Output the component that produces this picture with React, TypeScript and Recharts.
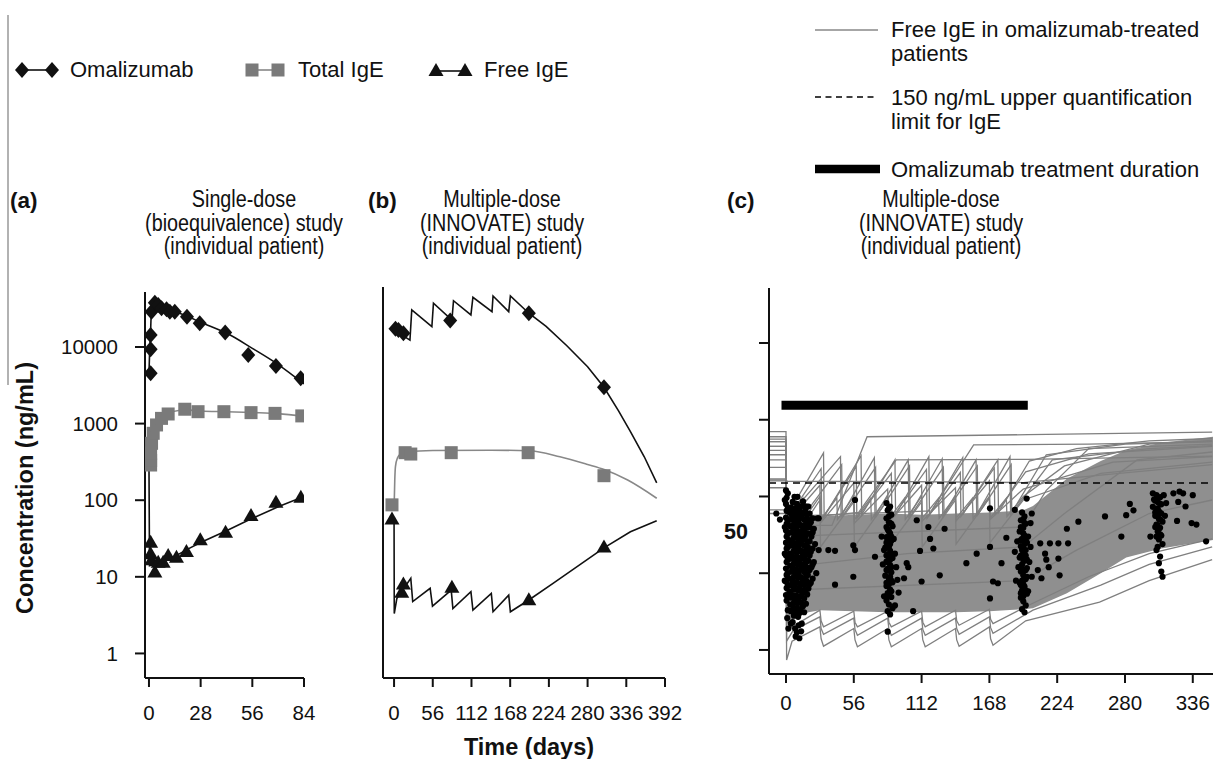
import React from 'react';
import { Area, ComposedChart, Line, ReferenceLine, Scatter, XAxis, YAxis } from 'recharts';

const FONT = "'Liberation Sans', Arial, sans-serif";
const INK = '#111';
const GREY = '#7a7a7a';
const LINE_GREY = '#7f7f7f';

type Pt = [number, number];

// tick values
const decadeTicks = [1, 10, 100, 1000, 10000];
const aDayTicks = [0, 28, 56, 84];
const bDayTicks = [0, 56, 112, 168, 224, 280, 336, 392];
const cDayTicks = [0, 56, 112, 168, 224, 280, 336];
const cLevelTicks = [1, 10, 50, 100, 1000, 10000];

// (a) single-dose study, one patient
const aOmaFit: Pt[] = [[0, 4500], [0.4, 9300], [0.8, 14300], [1.3, 28000], [2.5, 34500], [4, 35500], [7, 33000], [14, 29000], [21, 25000], [28, 21000], [42, 15200], [56, 9600], [70, 5900], [84, 3300]];
const aOmaObs: Pt[] = [[0.9, 4540], [0.9, 9330], [0.9, 14300], [1.4, 28800], [3.2, 37900], [5, 35300], [6.8, 32000], [9.5, 31000], [11.3, 28800], [14, 28800], [20.6, 24900], [27.5, 20400], [41.3, 15400], [53.8, 7870], [68.8, 5650], [82.2, 3900]];
const aTotFit: Pt[] = [[0, 290], [0.8, 400], [1.5, 560], [2.5, 760], [4, 960], [7, 1170], [10, 1330], [16, 1480], [22, 1500], [28, 1460], [42, 1430], [56, 1395], [70, 1350], [84, 1240]];
const aTotObs: Pt[] = [[0.9, 288], [0.9, 330], [0.9, 410], [1.4, 553], [2.3, 747], [4.1, 960], [6.8, 1170], [10.4, 1335], [19.4, 1540], [26.6, 1430], [40.6, 1430], [55.3, 1390], [68.3, 1360], [82.8, 1260]];
const aFreeFit: Pt[] = [[0, 290], [0.3, 14], [3, 14.5], [7, 16], [14, 18.5], [21, 23], [28, 28], [42, 40], [56, 58], [70, 82], [84, 112]];
const aFreeObs: Pt[] = [[0.9, 28.7], [0.9, 20.3], [1.4, 16.9], [3.2, 11.7], [5, 15.7], [7.7, 15.7], [10.4, 19.3], [14.9, 18.3], [20.3, 21.7], [27.8, 31], [41.5, 38.8], [55.3, 64], [68.8, 95.5], [82.3, 111]];

// (b) multiple-dose study, one patient
const bOmaFit: Pt[] = [[0, 14800], [23, 10900], [25.6, 26900], [54.7, 16300], [57, 32900], [83.7, 19900], [86, 35500], [111.2, 23200], [114.1, 39400], [141.7, 25600], [143.2, 40900], [165.9, 25600], [168.3, 40900], [195, 24400], [220, 16500], [250, 9200], [280, 4900], [303.7, 2650], [325, 1300], [342, 700], [362, 330], [380, 151]];
const bOmaObs: Pt[] = [[2, 15300], [6.3, 14800], [13.5, 13400], [81.2, 19600], [195, 24400], [303.7, 2650]];
const bTotFit: Pt[] = [[0, 67], [1, 160], [2, 245], [5, 320], [10, 360], [20, 385], [56, 398], [140, 402], [195, 395], [240, 330], [280, 262], [304, 225], [338, 164], [380, 95]];
const bTotObs: Pt[] = [[-3, 78], [16, 373], [24.2, 358], [82.7, 373], [194, 373], [303.7, 187]];
const bFreeFit: Pt[] = [[0, 50], [0.3, 3.0], [4, 4.7], [24.2, 8.6], [27, 4.3], [52.2, 6.4], [55.6, 3.74], [82.7, 6.06], [85.1, 3.49], [111.2, 5.76], [114.1, 3.32], [140.7, 5.48], [143.2, 3.16], [165.9, 5.2], [168.3, 3.16], [195, 4.5], [230, 7.4], [270, 13.2], [303.7, 21.5], [342, 34.8], [380, 48.4]];
const bFreeObs: Pt[] = [[-3, 52], [11.1, 5.76], [13.5, 7.4], [83.7, 6.7], [195, 4.6], [303.7, 22.3]];

// (c) free IgE, all treated patients
const cPatientCurves: Pt[][] = [
  [[-14, 520], [0, 520], [0.5, 42], [38, 42], [67, 600], [200, 640], [352, 690]],
  [[-14, 450], [0, 450], [0.5, 55], [31, 370], [31.5, 55], [62, 340], [62.5, 58], [90, 300], [90.5, 58], [118, 330], [118.5, 58], [146, 320], [146.5, 60], [175, 300], [175.5, 62], [201, 290], [240, 420], [300, 530], [352, 570]],
  [[-14, 300], [0, 300], [0.5, 50], [29, 230], [29.5, 50], [58, 245], [58.5, 52], [87, 200], [87.5, 52], [116, 225], [116.5, 52], [144, 205], [144.5, 55], [172, 235], [172.5, 58], [198, 210], [250, 360], [352, 450]],
  [[-14, 170], [0, 170], [0.5, 45], [28, 140], [28.5, 45], [56, 150], [56.5, 45], [84, 125], [84.5, 45], [112, 140], [112.5, 48], [140, 130], [140.5, 48], [168, 160], [168.5, 50], [196, 125], [270, 280], [352, 330]],
  [[-14, 165], [0, 165], [1, 158], [100, 156], [196, 152], [260, 190], [352, 260]],
  [[-14, 400], [0, 400], [0.5, 50], [60, 62], [91, 300], [200, 305], [352, 335]],
  [[-14, 600], [0, 600], [0.5, 55], [120, 65], [155, 470], [250, 480], [352, 520]],
  [[-14, 560], [0, 560], [0.5, 48], [14, 95], [14.5, 50], [28, 100], [28.5, 50], [42, 95], [42.5, 50], [56, 100], [56.5, 50], [70, 95], [70.5, 50], [84, 100], [84.5, 50], [98, 95], [98.5, 50], [112, 100], [112.5, 52], [126, 95], [126.5, 52], [140, 100], [140.5, 52], [154, 95], [154.5, 52], [168, 100], [168.5, 52], [182, 95], [182.5, 55], [196, 100], [230, 250], [300, 480], [352, 540]],
  [[-14, 350], [0, 350], [0.5, 52], [45, 330], [45.5, 55], [73, 320], [73.5, 55], [101, 300], [101.5, 55], [129, 310], [129.5, 55], [157, 300], [157.5, 58], [185, 330], [185.5, 58], [215, 350], [280, 480], [352, 520]],
  [[-14, 700], [0, 700], [0.5, 0.74], [5, 1.3], [28, 2.0], [29, 1.4], [31, 1.12], [56, 1.9], [57, 1.35], [59, 1.1], [84, 1.9], [85, 1.35], [87, 1.1], [112, 1.9], [113, 1.35], [115, 1.1], [140, 1.9], [141, 1.35], [143, 1.12], [168, 2.0], [169, 1.4], [171, 1.15], [198, 2.4], [259, 4.2], [300, 8], [352, 15]],
  [[-14, 67], [0, 67], [0.5, 1.3], [6, 1.8], [28, 2.7], [29, 1.9], [31, 1.6], [56, 2.6], [57, 1.85], [59, 1.55], [84, 2.6], [85, 1.85], [87, 1.55], [112, 2.6], [113, 1.85], [115, 1.55], [140, 2.6], [141, 1.9], [143, 1.6], [168, 2.7], [169, 1.95], [171, 1.65], [204, 3.3], [260, 7], [300, 13], [352, 22]],
  [[-14, 60], [0, 60], [0.5, 1.8], [28, 3.3], [29, 2.4], [31, 2.0], [56, 3.2], [57, 2.3], [59, 2.0], [84, 3.2], [85, 2.3], [87, 2.0], [112, 3.2], [113, 2.3], [115, 2.0], [140, 3.3], [141, 2.4], [143, 2.1], [168, 3.4], [169, 2.5], [171, 2.2], [200, 3.8], [250, 9], [300, 18], [352, 28]],
  [[-14, 240], [0, 240], [0.5, 50], [14, 55], [46, 260], [46.5, 55], [74, 240], [74.5, 55], [102, 250], [102.5, 55], [130, 240], [130.5, 58], [158, 250], [158.5, 58], [186, 260], [186.5, 60], [220, 300], [300, 420], [352, 460]],
  [[-14, 130], [0, 130], [0.5, 20], [28, 90], [28.5, 22], [56, 85], [56.5, 22], [84, 90], [84.5, 22], [112, 85], [112.5, 22], [140, 90], [140.5, 24], [168, 95], [168.5, 25], [196, 90], [260, 200], [352, 280]],
  [[-14, 450], [0, 450], [0.5, 30], [196, 40], [215, 120], [250, 420], [352, 480]],
  [[-14, 160], [0, 160], [0.5, 6], [196, 8], [240, 20], [300, 60], [352, 90]],
  [[-14, 520], [0, 520], [0.5, 12], [100, 18], [196, 22], [230, 60], [290, 300], [352, 380]],
];
// dense envelope of the individual curves: [day, low, high]
const cBand: [number, number, number][] = [[0.5, 2.2, 62], [14, 3.0, 58], [28, 3.3, 55], [56, 3.2, 58], [84, 3.1, 60], [112, 3.1, 58], [140, 3.1, 60], [168, 3.2, 62], [196, 3.4, 66], [204, 3.5, 75], [232, 5.5, 170], [260, 10, 290], [281, 16, 400], [310, 21, 500], [352.7, 27, 600]];
const cDotsDay0: Pt[] = [
  [0, 120], [0.5, 96], [0, 80], [0.5, 65], [0, 53], [0.5, 44], [0, 36], [0.5, 30], [0, 25], [0.5, 21], [0, 17], [0.5, 14], [0, 11.5], [0.5, 9.5], [0, 7.8], [0.5, 6.4], [0, 5.2], [0.5, 4.4],
  [-8, 60], [-5, 50], [-1, 90], [-1, 40], [-1, 18], [-1, 8],
  [1.5, 110], [1.5, 70], [1.5, 48], [1.5, 33], [1.5, 22], [1.5, 15], [1.5, 10], [1.5, 7], [1.5, 5], [1.5, 3.3], [1, 2.6], [2, 1.9],
  [3, 62], [3.5, 41], [2.5, 27], [3, 18], [3.5, 12.5], [2.5, 8.5], [3, 5.8], [3.5, 3.9],
  [4, 72], [4.5, 50], [4, 34], [4.5, 23], [4, 15.5], [4.5, 10.5], [4, 7], [4.5, 4.8], [4, 3.2], [4, 2.2],
  [5.5, 85], [5, 56], [6, 38], [5.5, 25], [5, 17], [6, 11.5], [5.5, 7.8], [5, 5.2], [6, 3.5], [5.5, 2.3],
  [6.5, 63], [6.5, 43], [6.5, 29], [6.5, 19.5], [6.5, 13.3], [6.5, 9], [6.5, 6.1], [6.5, 4.1], [6.5, 2.8],
  [7.5, 70], [8, 48], [7, 32], [8, 22], [7.5, 15], [8, 10], [7, 6.9], [7.5, 4.6], [8, 3.1], [7.5, 1.9], [8, 1.5],
  [9, 80], [8.5, 54], [9, 36], [8.5, 24.5], [9, 16.5], [8.5, 11.2], [9, 7.6], [8.5, 5.1], [9, 3.5],
  [9.5, 99], [10, 60], [9.5, 42], [10, 28], [9.5, 19], [10, 13], [9.5, 8.8], [10, 6], [9.5, 4.1], [10, 2.7], [9, 1.7],
  [11, 66], [10.5, 45], [11, 31], [10.5, 21], [11, 14.2], [10.5, 9.6], [11, 6.5], [10.5, 4.4], [11, 3], [10.5, 2.1],
  [12, 74], [11.5, 52], [12, 35], [11.5, 24], [12, 16], [11.5, 11], [12, 7.4], [11.5, 5], [12, 3.4], [11, 1.42], [12.5, 1.75],
  [13, 62], [12.5, 42], [13, 29], [12.5, 19.5], [13, 13], [12.5, 8.8], [13, 6], [12.5, 4.1],
  [14, 86], [13.5, 58], [14, 40], [13.5, 27], [14, 18], [13.5, 12], [14, 8.2], [13.5, 5.5], [14, 3.7], [13, 2.2],
  [15, 75], [15, 50], [15, 34], [15, 23], [15, 15.5], [15, 10.4], [15, 7], [15, 4.7], [15, 3.1],
  [16, 65], [16.5, 44], [16, 30], [16.5, 20], [16, 13.5], [16.5, 9], [16, 6], [16.5, 4],
  [17.5, 58], [17, 39], [17.5, 26], [17, 17.5], [17.5, 11.8], [17, 7.9], [17.5, 5.3],
  [18.5, 74], [18, 50], [18.5, 33], [18, 22], [18.5, 14.5], [18, 9.5], [18.5, 6.3],
  [19.5, 60], [19.5, 40], [19.5, 26], [19.5, 17], [19.5, 11], [19.5, 7.2],
  [20.5, 46], [21, 30], [20.5, 19], [21, 12], [20.5, 7.5],
  [22, 52], [22, 34], [22, 21], [22, 13], [22, 8.5],
  [23, 38], [24, 24], [23, 14], [26, 52], [27, 20], [25, 10],
];
const cDotsDay84: Pt[] = [
  [83, 82], [86, 74], [84, 66], [87, 58], [83, 52], [85, 46], [88, 41], [84, 37], [86, 33], [83, 29.5], [87, 26.5], [85, 24], [82, 21.5], [86, 19.5], [84, 17.5], [88, 15.8], [83, 14.2], [86, 12.8], [84, 11.5], [87, 10.3], [82, 9.3], [85, 8.4], [88, 7.6], [83, 6.8], [86, 6.1], [84, 5.5], [87, 4.9], [83, 4.4], [85, 3.9], [88, 3.5], [84, 3.2], [86, 2.9], [81, 20], [80, 13], [89, 28], [90, 18], [91, 12], [92, 8.2], [93, 5.6], [90, 3.8], [84, 1.73], [79, 30], [81, 5],
  [85, 70], [85, 55], [85, 35], [85, 22], [85, 16], [85, 10.8], [85, 7.2], [85, 5.1], [87, 44], [87, 30], [87, 18], [87, 12], [87, 8], [87, 5.8], [83, 40], [83, 25], [83, 17], [83, 11], [83, 7.5], [83, 5], [86, 45], [86, 24], [86, 15], [86, 9], [84, 28], [84, 14],
];
const cDotsDay196: Pt[] = [
  [195, 62], [197, 55], [194, 49], [198, 44], [196, 39], [193, 35], [197, 31], [195, 28], [199, 25], [194, 22.5], [198, 20], [196, 18], [193, 16], [197, 14.5], [195, 13], [199, 11.7], [194, 10.5], [196, 9.4], [198, 8.4], [193, 7.5], [197, 6.7], [195, 6], [199, 5.4], [194, 4.8], [196, 4.3], [198, 3.8], [195, 3.4], [192, 12], [190, 8], [189, 19], [200, 30], [202, 22], [201, 14], [203, 9], [200, 5.8], [202, 45], [203, 60], [191, 26], [197, 3.1],
  [196, 50], [196, 33], [196, 22], [196, 15], [196, 11], [196, 7.2], [196, 5], [198, 28], [198, 17], [198, 11], [198, 6], [194, 40], [194, 27], [194, 17], [194, 12], [194, 7], [194, 5.5], [197, 45], [197, 24], [197, 9], [195, 20], [195, 8], [199, 15], [199, 9],
  [210, 24.5], [208, 11], [211, 8.6], [218, 24.5], [225, 24.5], [233, 24.5], [232, 38], [225, 15.5], [226, 9.4], [215, 15], [217, 12], [214, 18],
];
const cDotsDay308: Pt[] = [
  [303, 110], [306, 104], [309, 98], [304, 91], [307, 85], [310, 79], [303, 73], [306, 67], [309, 61], [305, 56], [308, 51], [311, 47], [306, 43], [309, 39], [307, 35], [310, 31], [308, 27.5], [311, 24], [306, 20], [309, 16.5], [308, 13.5], [310, 10.5], [311, 9], [301, 30], [313, 56], [314, 82], [312, 104],
  [307, 95], [307, 70], [307, 55], [307, 42], [307, 30], [307, 22], [309, 80], [309, 50], [309, 32], [305, 88], [305, 62], [305, 40], [308, 64], [308, 38], [306, 30], [310, 60],
  [323, 48], [324, 85], [325, 116], [330, 74], [335, 45], [339, 43], [336, 104], [347, 26], [320, 110], [328, 110],
];
const cDotsOther: Pt[] = [[7, 99], [14, 86], [17, 74], [27, 52], [35, 20], [40.5, 19.6], [40.5, 7.1], [57, 90], [55.6, 23], [57, 20], [55.6, 9], [73.5, 16.4], [97.5, 8.6], [99.7, 13.5], [101, 12], [105, 3.2], [108, 49], [110.7, 19.5], [112, 7.8], [119, 28], [117.6, 40], [121.7, 21], [127, 9.4], [131, 38], [149, 13.5], [157.5, 18], [168.5, 70], [168.5, 22], [168.5, 4.7], [171, 7.8], [175, 7.4], [178, 13.5], [182, 29], [189, 67], [198.8, 94], [241.5, 47], [263.5, 55], [277, 30], [281, 57], [284, 80], [287, 66]];
const treatmentSpan: Pt[] = [[0, 1550], [196, 1550]];
const upperLimit = 150;

const rows = (pts: Pt[]) => pts.map(([day, v]) => ({ day, v }));

const Diamond = (p: any) => (
  <path d={`M${p.cx},${p.cy - 8}L${p.cx + 7},${p.cy}L${p.cx},${p.cy + 8}L${p.cx - 7},${p.cy}Z`} fill={INK} />
);
const Square = (p: any) => <rect x={p.cx - 6.5} y={p.cy - 6.5} width={13} height={13} fill={GREY} />;
const Triangle = (p: any) => (
  <path d={`M${p.cx},${p.cy - 7}L${p.cx + 7.5},${p.cy + 6}L${p.cx - 7.5},${p.cy + 6}Z`} fill={INK} />
);
const Dot = (p: any) => <circle cx={p.cx} cy={p.cy} r={3.1} fill="#000" />;

const axisStroke = { stroke: INK, strokeWidth: 2 };
const tickText = { fontSize: 20.5, fill: INK, fontFamily: FONT };

const CTick = (props: any) => {
  const { x, y, payload } = props;
  if (payload.value === 50) {
    return (
      <text x={x - 11} y={y + 12} textAnchor="end" dominantBaseline="central" fontSize={21.5} fontWeight="bold" fill={INK} fontFamily={FONT}>
        50
      </text>
    );
  }
  return <line x1={x} y1={y} x2={x + 10} y2={y} stroke={INK} strokeWidth={2} />;
};

const layer: React.CSSProperties = { position: 'absolute', left: 0, top: 0 };

function PanelA() {
  return (
    <div style={layer}>
      <ComposedChart width={1213} height={759} margin={{ top: 292, right: 909, bottom: 41, left: 85 }}>
        <XAxis dataKey="day" type="number" domain={[-2.15, 84]} ticks={aDayTicks} allowDataOverflow interval={0} height={40} tickSize={9} tickMargin={18} axisLine={axisStroke} tickLine={axisStroke} tick={tickText} />
        <YAxis type="number" scale="log" domain={[0.478, 52200]} ticks={decadeTicks} allowDataOverflow interval={0} width={60} tickSize={10} tickMargin={17} axisLine={axisStroke} tickLine={axisStroke} tick={tickText} />
        <Line data={rows(aTotFit)} dataKey="v" type="monotone" stroke="#888" strokeWidth={1.6} dot={false} isAnimationActive={false} />
        <Line data={rows(aOmaFit)} dataKey="v" type="monotone" stroke={INK} strokeWidth={1.6} dot={false} isAnimationActive={false} />
        <Line data={rows(aFreeFit)} dataKey="v" type="linear" stroke={INK} strokeWidth={1.6} dot={false} isAnimationActive={false} />
        <Scatter data={rows(aTotObs)} dataKey="v" shape={Square} isAnimationActive={false} />
        <Scatter data={rows(aOmaObs)} dataKey="v" shape={Diamond} isAnimationActive={false} />
        <Scatter data={rows(aFreeObs)} dataKey="v" shape={Triangle} isAnimationActive={false} />
      </ComposedChart>
    </div>
  );
}

function PanelB() {
  return (
    <div style={layer}>
      <ComposedChart width={1213} height={759} margin={{ top: 287, right: 548, bottom: 41, left: 323 }}>
        <XAxis dataKey="day" type="number" domain={[-16, 392]} ticks={bDayTicks} allowDataOverflow interval={0} height={40} tickSize={9} tickMargin={18} axisLine={axisStroke} tickLine={axisStroke} tick={tickText} />
        <YAxis type="number" scale="log" domain={[0.434, 53600]} ticks={decadeTicks} allowDataOverflow interval={0} width={60} tickSize={9} axisLine={axisStroke} tickLine={axisStroke} tick={false} />
        <Line data={rows(bTotFit)} dataKey="v" type="monotone" stroke="#888" strokeWidth={1.6} dot={false} isAnimationActive={false} />
        <Line data={rows(bOmaFit)} dataKey="v" type="linear" stroke={INK} strokeWidth={1.6} dot={false} isAnimationActive={false} />
        <Line data={rows(bFreeFit)} dataKey="v" type="linear" stroke={INK} strokeWidth={1.6} dot={false} isAnimationActive={false} />
        <Scatter data={rows(bTotObs)} dataKey="v" shape={Square} isAnimationActive={false} />
        <Scatter data={rows(bOmaObs)} dataKey="v" shape={Diamond} isAnimationActive={false} />
        <Scatter data={rows(bFreeObs)} dataKey="v" shape={Triangle} isAnimationActive={false} />
      </ComposedChart>
    </div>
  );
}

function PanelC() {
  const band = cBand.map(([day, lo, hi]) => ({ day, band: [lo, hi] }));
  const dots = rows([...cDotsDay0, ...cDotsDay84, ...cDotsDay196, ...cDotsDay308, ...cDotsOther]);
  return (
    <div style={layer}>
      <ComposedChart width={1213} height={759} margin={{ top: 288, right: 0, bottom: 45, left: 709 }}>
        <XAxis dataKey="day" type="number" domain={[-14.04, 352.7]} ticks={cDayTicks} allowDataOverflow interval={0} height={40} tickSize={9} tickMargin={12} axisLine={axisStroke} tickLine={axisStroke} tick={tickText} />
        <YAxis type="number" scale="log" domain={[0.486, 52100]} ticks={cLevelTicks} allowDataOverflow interval={0} width={60} tickSize={10} tickMargin={0} axisLine={axisStroke} tickLine={false} tick={<CTick />} />
        <Area data={band} dataKey="band" type="linear" stroke="none" fill="#8f8f8f" fillOpacity={1} isAnimationActive={false} />
        {cPatientCurves.map((pts, i) => (
          <Line key={i} data={rows(pts)} dataKey="v" type="linear" stroke={LINE_GREY} strokeWidth={1.3} dot={false} isAnimationActive={false} />
        ))}
        <ReferenceLine y={upperLimit} stroke="#000" strokeWidth={1.6} strokeDasharray="7 5" />
        <Scatter data={dots} dataKey="v" shape={Dot} isAnimationActive={false} />
        <Line data={rows(treatmentSpan)} dataKey="v" type="linear" stroke="#000" strokeWidth={9} strokeLinecap="square" dot={false} isAnimationActive={false} />
      </ComposedChart>
    </div>
  );
}

function Overlay() {
  // panel titles: the original uses a condensed face, emulated by a horizontal squeeze
  const title = (x: number, lines: string[]) =>
    lines.map((t, i) => (
      <text key={t} x={0} y={0} transform={`translate(${x} ${207 + i * 23.5}) scale(0.86 1)`} textAnchor="middle" fontSize={23} fill={INK}>
        {t}
      </text>
    ));
  return (
    <svg width={1213} height={759} style={{ ...layer, pointerEvents: 'none' }} fontFamily={FONT}>
      <line x1={8} y1={15} x2={8} y2={385} stroke="#999" strokeWidth={1.5} />

      <line x1={22} y1={70} x2={52} y2={70} stroke={INK} strokeWidth={1.6} />
      <Diamond cx={22} cy={70} />
      <Diamond cx={52} cy={70} />
      <text x={70} y={77} fontSize={22} fill={INK}>Omalizumab</text>
      <line x1={252} y1={70} x2={278} y2={70} stroke="#888" strokeWidth={1.6} />
      <Square cx={252} cy={70} />
      <Square cx={278} cy={70} />
      <text x={298} y={77} fontSize={22} fill={INK}>Total IgE</text>
      <line x1={436} y1={71} x2={465} y2={71} stroke={INK} strokeWidth={1.6} />
      <Triangle cx={436} cy={70} />
      <Triangle cx={465} cy={70} />
      <text x={484} y={77} fontSize={22} fill={INK}>Free IgE</text>

      <line x1={815} y1={30} x2={878} y2={30} stroke="#888" strokeWidth={1.5} />
      <text x={891} y={37} fontSize={22} fill={INK}>Free IgE in omalizumab-treated</text>
      <text x={891} y={61} fontSize={22} fill={INK}>patients</text>
      <line x1={815} y1={97} x2={878} y2={97} stroke="#000" strokeWidth={1.6} strokeDasharray="6 4.5" />
      <text x={891} y={105} fontSize={22} fill={INK}>150 ng/mL upper quantification</text>
      <text x={891} y={129} fontSize={22} fill={INK}>limit for IgE</text>
      <line x1={815} y1={169} x2={880} y2={169} stroke="#000" strokeWidth={8.5} />
      <text x={891} y={177} fontSize={22} fill={INK}>Omalizumab treatment duration</text>

      <text x={10} y={208} fontSize={22.5} fontWeight="bold" fill={INK}>(a)</text>
      <text x={368} y={208} fontSize={22.5} fontWeight="bold" fill={INK}>(b)</text>
      <text x={727} y={208} fontSize={22.5} fontWeight="bold" fill={INK}>(c)</text>
      {title(244, ['Single-dose', '(bioequivalence) study', '(individual patient)'])}
      {title(502, ['Multiple-dose', '(INNOVATE) study', '(individual patient)'])}
      {title(941, ['Multiple-dose', '(INNOVATE) study', '(individual patient)'])}

      <text x={0} y={0} transform="translate(33 488) rotate(-90)" textAnchor="middle" fontSize={23.5} fontWeight="bold" fill={INK}>
        Concentration (ng/mL)
      </text>
      <text x={529} y={755} textAnchor="middle" fontSize={23.5} fontWeight="bold" fill={INK}>Time (days)</text>
    </svg>
  );
}

export default function App() {
  return (
    <div style={{ position: 'absolute', left: 0, top: 0, width: 1213, height: 759, overflow: 'hidden', background: '#fff' }}>
      <PanelC />
      <PanelB />
      <PanelA />
      <Overlay />
    </div>
  );
}
